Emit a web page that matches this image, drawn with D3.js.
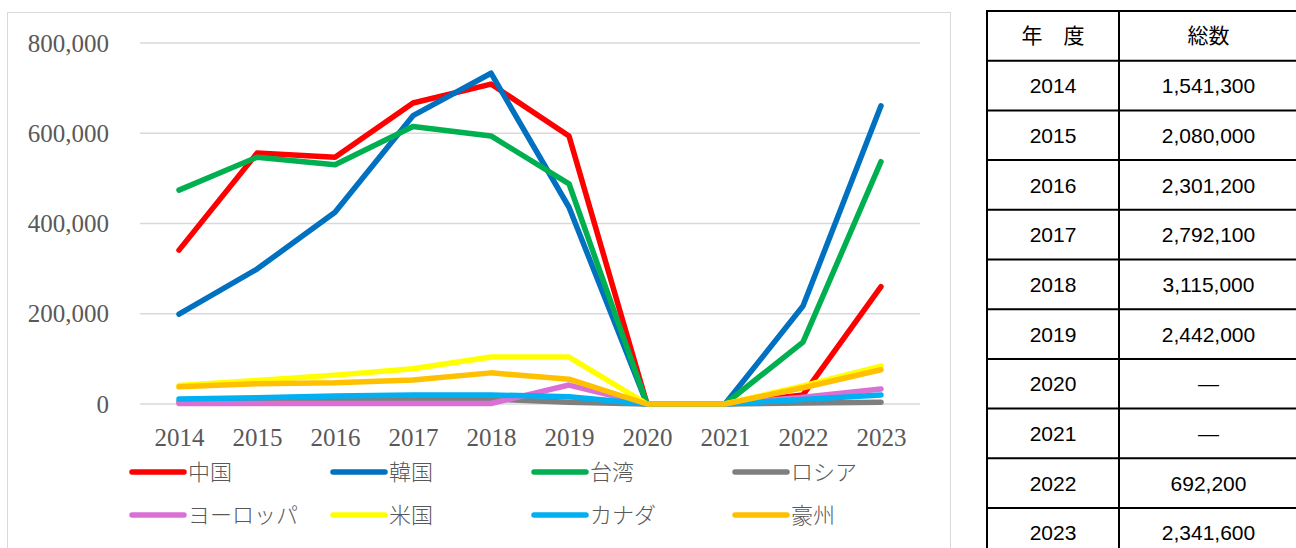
<!DOCTYPE html>
<html>
<head>
<meta charset="utf-8">
<script src="https://cdn.jsdelivr.net/npm/d3@7"></script>
<style>
  body { margin: 0; background: #fff; }
  svg { display: block; }
</style>
</head>
<body>
<div id="chart"></div>
<script>
// years on the x axis
var years = ["2014", "2015", "2016", "2017", "2018", "2019", "2020", "2021", "2022", "2023"];

// visitors per country / region
var china     = [341000, 556000, 547000, 667000, 709000, 594000, 0, 0, 20000, 260000];
var korea     = [199000, 299000, 425000, 639000, 733000, 436000, 0, 0, 217000, 661000];
var taiwan    = [474000, 547000, 530000, 615000, 594000, 488000, 0, 0, 137000, 537000];
var russia    = [5000, 7000, 9000, 11000, 11000, 4000, 0, 0, 2000, 4000];
var europe    = [1000, 1000, 1000, 1000, 1000, 42000, 0, 0, 15000, 33000];
var usa       = [41000, 52000, 64000, 78000, 104000, 104000, 0, 0, 40000, 84000];
var canada    = [11000, 14000, 18000, 20000, 20000, 16000, 0, 0, 10000, 20000];
var australia = [38000, 45000, 47000, 53000, 69000, 55000, 0, 0, 36000, 76000];

var seriesNames = ["中国", "韓国", "台湾", "ロシア", "ヨーロッパ", "米国", "カナダ", "豪州"];
var seriesColors = ["#ff0000", "#0070c0", "#00b050", "#7f7f7f", "#da70d6", "#ffff00", "#00b0f0", "#ffc000"];
var yTicks = [0, 200000, 400000, 600000, 800000];

// table on the right
var tableHead = ["年\u3000度", "総数"];
var tableYears = ["2014", "2015", "2016", "2017", "2018", "2019", "2020", "2021", "2022", "2023"];
var tableTotals = ["1,541,300", "2,080,000", "2,301,200", "2,792,100", "3,115,000", "2,442,000", "―", "―", "692,200", "2,341,600"];

var series = [china, korea, taiwan, russia, europe, usa, canada, australia].map(function (v, i) {
    return { name: seriesNames[i], color: seriesColors[i], values: v };
});

var W = 1296, H = 548;
var svg = d3.select("#chart").append("svg")
    .attr("width", W)
    .attr("height", H);

// chart frame
svg.append("rect")
    .attr("x", 7.5).attr("y", 12.5)
    .attr("width", 943).attr("height", 560)
    .attr("fill", "#fff")
    .attr("stroke", "#d9d9d9")
    .attr("stroke-width", 1);

var plot = { left: 140, right: 920, top: 43, bottom: 404 };

var xScale = d3.scalePoint()
    .domain(years)
    .range([plot.left, plot.right])
    .padding(0.5);

var yScale = d3.scaleLinear()
    .domain([0, 800000])
    .range([plot.bottom, plot.top]);

// gridlines
svg.append("g")
    .selectAll("line")
    .data(yTicks)
    .enter()
    .append("line")
    .attr("x1", plot.left)
    .attr("x2", plot.right)
    .attr("y1", function (d) { return yScale(d); })
    .attr("y2", function (d) { return yScale(d); })
    .attr("stroke", "#d9d9d9")
    .attr("stroke-width", 1.5);

// y axis labels
var axisLeft = d3.axisLeft(yScale).tickValues(yTicks).tickFormat(d3.format(",")).tickSize(0).tickPadding(0);
var gy = svg.append("g")
    .attr("transform", "translate(109,0)")
    .call(axisLeft);
gy.select(".domain").remove();
gy.selectAll("text")
    .attr("fill", "#595959")
    .style("font-family", "'Liberation Serif', 'DejaVu Serif', serif")
    .style("font-size", "25px");

// x axis labels
var axisBottom = d3.axisBottom(xScale).tickSize(0).tickPadding(0);
var gx = svg.append("g")
    .attr("transform", "translate(0,427)")
    .call(axisBottom);
gx.select(".domain").remove();
gx.selectAll("text")
    .attr("fill", "#595959")
    .attr("dy", "0.75em")
    .style("font-family", "'Liberation Serif', 'DejaVu Serif', serif")
    .style("font-size", "25px");

// lines
var line = d3.line()
    .x(function (d, i) { return xScale(years[i]); })
    .y(function (d) { return yScale(d); });

svg.append("g")
    .selectAll("path")
    .data(series)
    .enter()
    .append("path")
    .attr("d", function (d) { return line(d.values); })
    .attr("fill", "none")
    .attr("stroke", function (d) { return d.color; })
    .attr("stroke-width", 5.5)
    .attr("stroke-linecap", "round")
    .attr("stroke-linejoin", "round");

// legend, 4 columns x 2 rows
var legendX = [130, 331, 532, 733];
var legendY = [472, 515];
var legend = svg.append("g")
    .selectAll("g")
    .data(series)
    .enter()
    .append("g")
    .attr("transform", function (d, i) {
        return "translate(" + legendX[i % 4] + "," + legendY[Math.floor(i / 4)] + ")";
    });

legend.append("line")
    .attr("x1", 2).attr("x2", 54)
    .attr("y1", 0).attr("y2", 0)
    .attr("stroke", function (d) { return d.color; })
    .attr("stroke-width", 5.5)
    .attr("stroke-linecap", "round");

legend.append("text")
    .attr("x", 58)
    .attr("y", 0)
    .attr("dy", "0.36em")
    .attr("fill", "#595959")
    .style("font-family", "'Liberation Serif', 'Noto Sans CJK JP', serif")
    .style("font-size", "22px")
    .style("font-weight", 300)
    .text(function (d) { return d.name; });

// table
var tb = { left: 987, mid: 1119, right: 1298, top: 11, rowH: 49.7 };
var rows = [tableHead].concat(tableYears.map(function (y, i) { return [y, tableTotals[i]]; }));

var tg = svg.append("g");
tg.selectAll(".hline")
    .data(d3.range(rows.length + 1))
    .enter()
    .append("line")
    .attr("x1", tb.left - 1).attr("x2", tb.right)
    .attr("y1", function (i) { return tb.top + i * tb.rowH; })
    .attr("y2", function (i) { return tb.top + i * tb.rowH; })
    .attr("stroke", "#000")
    .attr("stroke-width", 2);

tg.selectAll(".vline")
    .data([tb.left, tb.mid, tb.right])
    .enter()
    .append("line")
    .attr("x1", function (d) { return d; })
    .attr("x2", function (d) { return d; })
    .attr("y1", tb.top - 1)
    .attr("y2", tb.top + rows.length * tb.rowH)
    .attr("stroke", "#000")
    .attr("stroke-width", 2);

var rowG = tg.selectAll(".row")
    .data(rows)
    .enter()
    .append("g")
    .attr("transform", function (d, i) { return "translate(0," + (tb.top + (i + 0.5) * tb.rowH) + ")"; });

rowG.selectAll("text")
    .data(function (d) { return d; })
    .enter()
    .append("text")
    .attr("x", function (d, j) { return j === 0 ? (tb.left + tb.mid) / 2 : (tb.mid + tb.right) / 2; })
    .attr("dy", "0.36em")
    .attr("text-anchor", "middle")
    .attr("fill", "#000")
    .style("font-family", "'Liberation Sans', 'Noto Sans CJK JP', sans-serif")
    .style("font-size", "21px")
    .text(function (d) { return d; });
</script>
</body>
</html>
